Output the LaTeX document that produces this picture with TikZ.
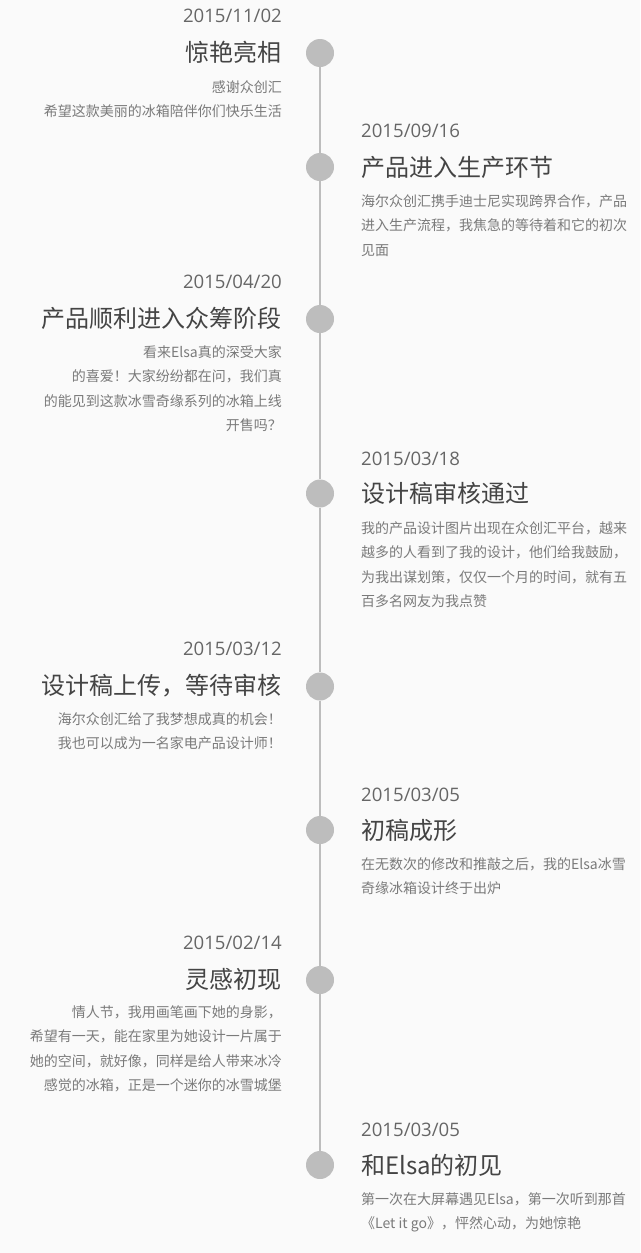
\documentclass[tikz,border=0pt]{standalone}
\usepackage{fontspec}
\newfontfamily\cjk{Noto Sans CJK SC}
\newfontfamily\datefont{Open Sans}
\definecolor{bgcol}{HTML}{FAFAFA}
\definecolor{dotgray}{HTML}{BDBDBD}
\definecolor{dategray}{HTML}{666666}
\definecolor{titlegray}{HTML}{444444}
\definecolor{bodygray}{HTML}{7A7A7A}
\begin{document}
\begin{tikzpicture}[x=1pt, y=-1pt]
\fill[bgcol] (0,0) rectangle (640,1253);
\useasboundingbox (0,0) rectangle (640,1253);
\begin{scope}[every node/.style={circle, fill=dotgray, inner sep=0pt, minimum size=28pt}]
    \node (dot1) at (320,53) {};
    \node (dot2) at (320,167) {};
    \node (dot3) at (320,319) {};
    \node (dot4) at (320,493.5) {};
    \node (dot5) at (320,686.5) {};
    \node (dot6) at (320,830) {};
    \node (dot7) at (320,980) {};
    \node (dot8) at (320,1165) {};
\end{scope}
\begin{scope}[every edge/.style={draw=dotgray, line width=2pt}]
    \path (dot1) edge (dot2);
    \path (dot2) edge (dot3);
    \path (dot3) edge (dot4);
    \path (dot4) edge (dot5);
    \path (dot5) edge (dot6);
    \path (dot6) edge (dot7);
    \path (dot7) edge (dot8);
\end{scope}
\begin{scope}[every node/.style={font=\datefont\fontsize{18.6}{18.6}\selectfont, text=dategray, inner sep=0pt}]
    \node[anchor=base east] (date1) at (282,22.7) {2015/11/02};
    \node[anchor=base west] (date2) at (361,137.7) {2015/09/16};
    \node[anchor=base east] (date3) at (282,288.3) {2015/04/20};
    \node[anchor=base west] (date4) at (361,465) {2015/03/18};
    \node[anchor=base east] (date5) at (282,655) {2015/03/12};
    \node[anchor=base west] (date6) at (361,801.7) {2015/03/05};
    \node[anchor=base east] (date7) at (282,949) {2015/02/14};
    \node[anchor=base west] (date8) at (361,1136.7) {2015/03/05};
\end{scope}
\begin{scope}[every node/.style={font=\cjk\fontsize{24}{24}\selectfont, text=titlegray, inner sep=0pt}]
    \node[anchor=east] (head1) at (282,52) {惊艳亮相};
    \node[anchor=west] (head2) at (361,167) {产品进入生产环节};
    \node[anchor=east] (head3) at (282,318) {产品顺利进入众筹阶段};
    \node[anchor=west] (head4) at (361,493) {设计稿审核通过};
    \node[anchor=east] (head5) at (282,686) {设计稿上传，等待审核};
    \node[anchor=west] (head6) at (361,830) {初稿成形};
    \node[anchor=east] (head7) at (282,979) {灵感初现};
    \node[anchor=west] (head8) at (361,1165) {和Elsa的初见};
\end{scope}
\begin{scope}[every node/.style={font=\cjk\fontsize{14}{24.5}\selectfont, text=bodygray, inner sep=0pt}]
    \node[anchor=north east, align=right] (text1) at (282,80) {感谢众创汇\\希望这款美丽的冰箱陪伴你们快乐生活};
    \node[anchor=north west, align=left] (text2) at (361,194) {海尔众创汇携手迪士尼实现跨界合作，产品\\进入生产流程，我焦急的等待着和它的初次\\见面};
    \node[anchor=north east, align=right] (text3) at (282,345) {看来Elsa真的深受大家\\的喜爱！大家纷纷都在问，我们真\\的能见到这款冰雪奇缘系列的冰箱上线\\开售吗？};
    \node[anchor=north west, align=left] (text4) at (361,521) {我的产品设计图片出现在众创汇平台，越来\\越多的人看到了我的设计，他们给我鼓励，\\为我出谋划策，仅仅一个月的时间，就有五\\百多名网友为我点赞};
    \node[anchor=north east, align=right] (text5) at (282,712) {海尔众创汇给了我梦想成真的机会！\\我也可以成为一名家电产品设计师！};
    \node[anchor=north west, align=left] (text6) at (361,857) {在无数次的修改和推敲之后，我的Elsa冰雪\\奇缘冰箱设计终于出炉};
    \node[anchor=north east, align=right] (text7) at (282,1005) {情人节，我用画笔画下她的身影，\\希望有一天，能在家里为她设计一片属于\\她的空间，就好像，同样是给人带来冰冷\\感觉的冰箱，正是一个迷你的冰雪城堡};
    \node[anchor=north west, align=left] (text8) at (361,1192) {第一次在大屏幕遇见Elsa，第一次听到那首\\《Let it go》，怦然心动，为她惊艳};
\end{scope}
\end{tikzpicture}
\end{document}
